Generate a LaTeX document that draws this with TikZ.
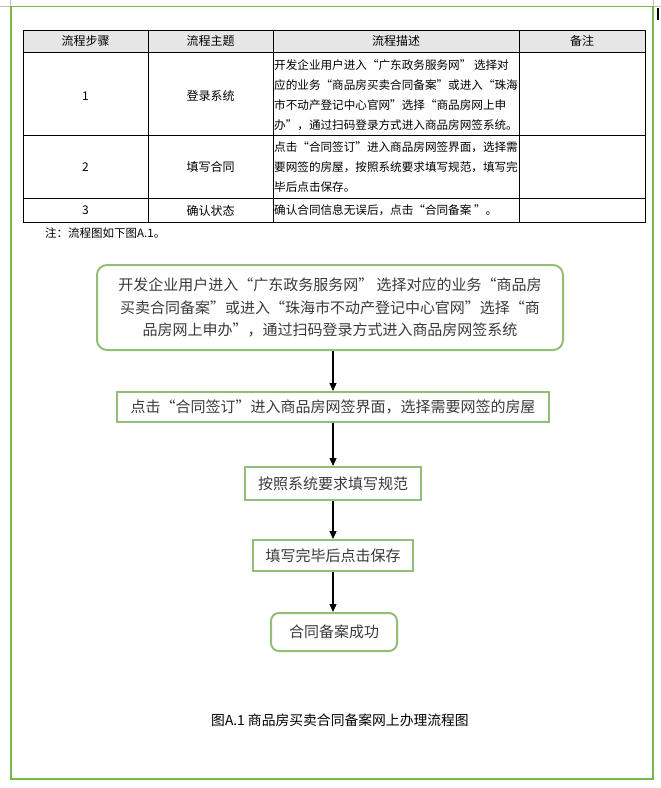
\documentclass[tikz,border=0pt]{standalone}
\usepackage{fontspec}
\setmainfont{Noto Sans CJK SC}
\usetikzlibrary{arrows.meta}
\definecolor{framegreen}{HTML}{7AB648}
\definecolor{boxgreen}{HTML}{93BE76}
\definecolor{hdrgrey}{HTML}{E6E6E6}
\definecolor{txtgrey}{HTML}{3A3A3A}
\tikzset{
  tbl/.style={line width=1pt,draw=black},
  celltxt/.style={font=\fontsize{12}{20}\selectfont,inner sep=0pt,text=black},
  desctxt/.style={font=\fontsize{11.6}{20}\selectfont,inner sep=0pt,align=left,anchor=west,text=black},
  flowbox/.style={draw=boxgreen,line width=2pt,inner sep=0pt,align=center,
    font=\fontsize{15}{22.5}\selectfont,text=txtgrey},
  roundbox/.style={flowbox,rounded corners=10pt},
  arr/.style={line width=1.2pt,-{Triangle[width=7pt,length=8pt]}}
}
\begin{document}
\begin{tikzpicture}[x=1pt,y=-1pt]
\useasboundingbox (0,0) rectangle (661,788);
% page marks
\draw[gray!50,line width=0.8pt] (10.5,0) -- (10.5,6) -- (0,6);
\draw[gray!50,line width=0.8pt] (653,0) -- (653,6) -- (661,6);
\fill[black] (656.5,8) rectangle (658.5,20);
% outer frame
\draw[framegreen,line width=1.2pt] (11,6.5) rectangle (653,779);
% table
\fill[hdrgrey] (23,30) rectangle (645,52);
\draw[tbl] (23,30) rectangle (645,222);
\foreach \y in {52,135,198} \draw[tbl] (23,\y) -- (645,\y);
\foreach \x in {148,273,519} \draw[tbl] (\x,30) -- (\x,222);
\node[celltxt] (h1) at (85.5,41) {流程步骤};
\node[celltxt] (h2) at (210.5,41) {流程主题};
\node[celltxt] (h3) at (396,41) {流程描述};
\node[celltxt] (h4) at (582,41) {备注};
\node[celltxt] (n1) at (85.5,96) {1};
\node[celltxt] (t1) at (210.5,96) {登录系统};
\node[desctxt] (d1) at (274,95) {开发企业用户进入“广东政务服务网” 选择对\\应的业务“商品房买卖合同备案”或进入“珠海\\市不动产登记中心官网”选择“商品房网上申\\办”，通过扫码登录方式进入商品房网签系统。};
\node[celltxt] (n2) at (85.5,167) {2};
\node[celltxt] (t2) at (210.5,167) {填写合同};
\node[desctxt] (d2) at (274,167) {点击“合同签订”进入商品房网签界面，选择需\\要网签的房屋，按照系统要求填写规范，填写完\\毕后点击保存。};
\node[celltxt] (n3) at (85.5,210.5) {3};
\node[celltxt] (t3) at (210.5,210.5) {确认状态};
\node[desctxt] (d3) at (274,210.5) {确认合同信息无误后，点击“合同备案 ”。};
% note
\node[font=\fontsize{11.5}{14}\selectfont,anchor=west,inner sep=0pt] (note) at (45,233) {注：流程图如下图A.1。};
% flowchart
\node[roundbox,minimum width=466pt,minimum height=85pt] (b1) at (330,307.5)
  {开发企业用户进入“广东政务服务网” 选择对应的业务“商品房\\买卖合同备案”或进入“珠海市不动产登记中心官网”选择“商\\品房网上申办”，通过扫码登录方式进入商品房网签系统};
\node[flowbox,minimum width=432pt,minimum height=30pt] (b2) at (333,407)
  {点击“合同签订”进入商品房网签界面，选择需要网签的房屋};
\node[flowbox,minimum width=176pt,minimum height=33pt] (b3) at (333,483.5)
  {按照系统要求填写规范};
\node[flowbox,minimum width=160pt,minimum height=31pt] (b4) at (333,555.5)
  {填写完毕后点击保存};
\node[roundbox,rounded corners=8pt,minimum width=126pt,minimum height=38pt] (b5) at (334,632)
  {合同备案成功};
\draw[arr] (b1.south -| b2.north) -- (b2.north);
\draw[arr] (b2.south) -- (b3.north);
\draw[arr] (b3.south) -- (b4.north);
\draw[arr] (b4.south) -- (b4.south |- b5.north);
% caption
\node[font=\fontsize{13.8}{16}\selectfont,inner sep=0pt] (cap) at (340,720) {图A.1 商品房买卖合同备案网上办理流程图};
\end{tikzpicture}
\end{document}
